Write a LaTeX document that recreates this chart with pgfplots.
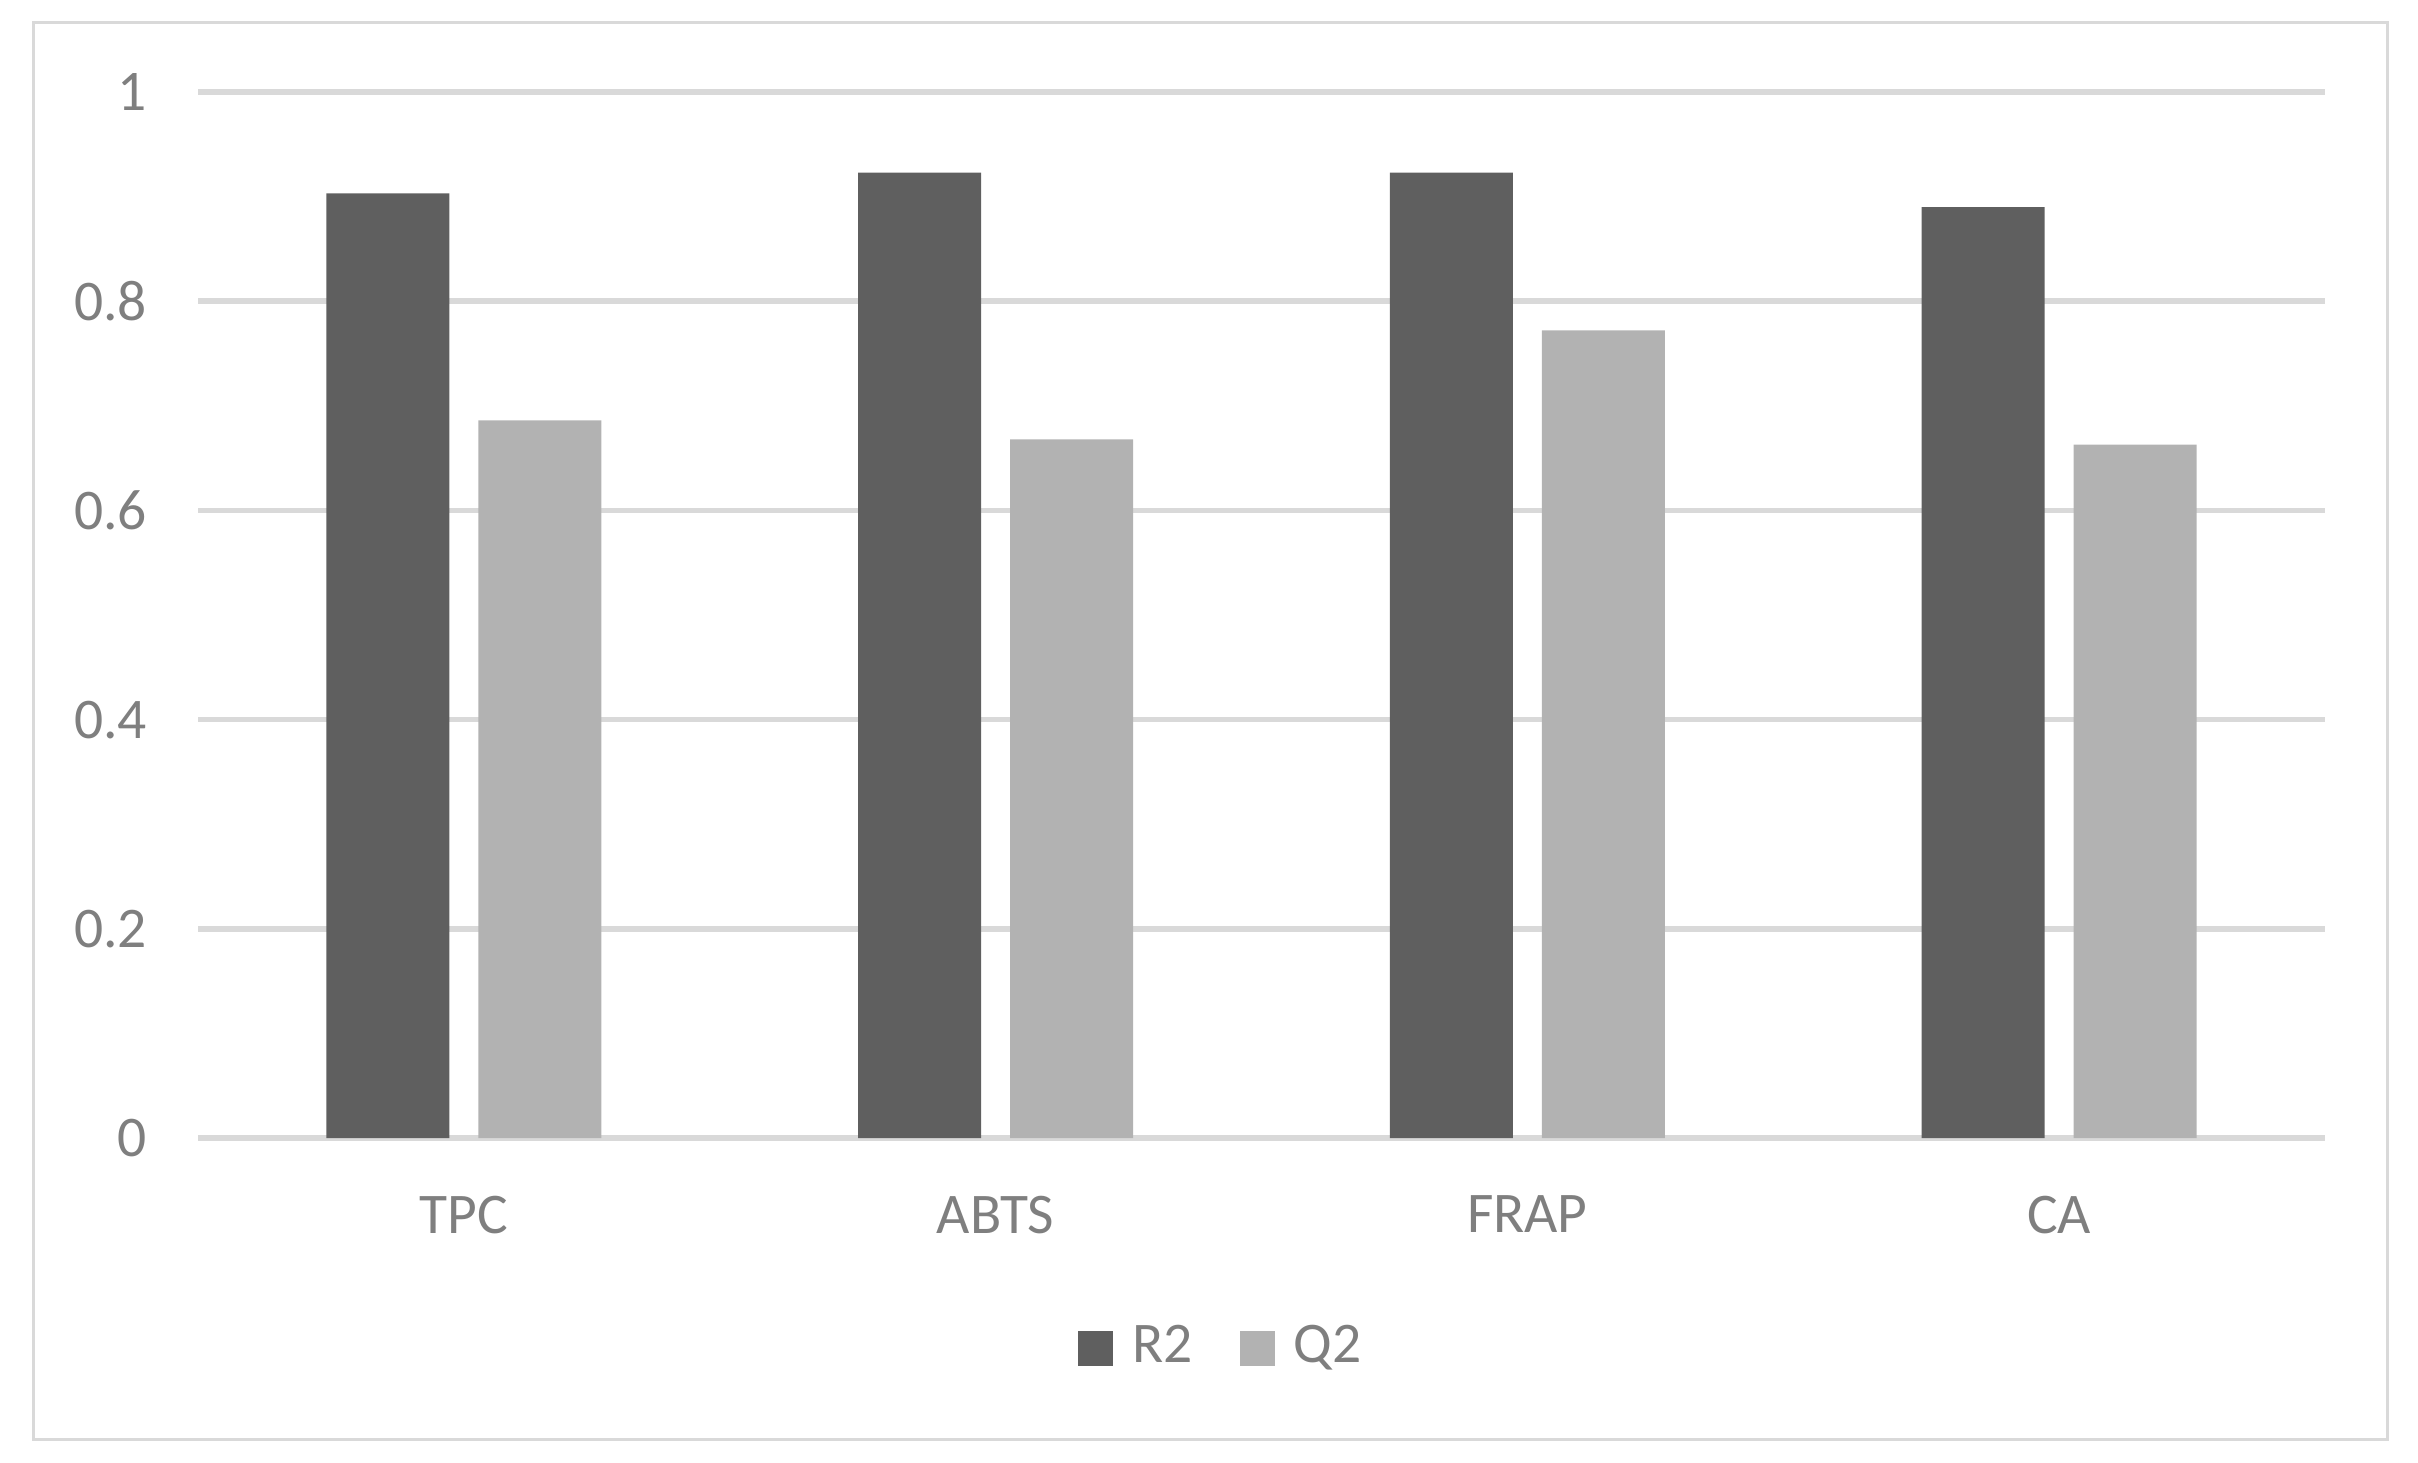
\documentclass[border=0pt]{standalone}
\usepackage{pgfplots}
\pgfplotsset{compat=1.18}
\usepackage{fontspec}
\setmainfont{Carlito}
\definecolor{rtwo}{HTML}{5F5F5F}
\definecolor{qtwo}{HTML}{B2B2B2}
\definecolor{gridgray}{HTML}{D9D9D9}
\definecolor{txtgray}{HTML}{7F7F7F}
\begin{document}
\begin{tikzpicture}
\path[use as bounding box] (-39.6pt,-64.8pt) rectangle (444pt,227.6pt);
\draw[gridgray, line width=0.6pt] (-32.8pt,-60.2pt) rectangle (437.8pt,223pt);
\begin{axis}[
  at={(0pt,0pt)}, anchor=south west,
  scale only axis,
  width=425.4pt, height=209.2pt,
  xmin=-0.5, xmax=3.5, ymin=0, ymax=1,
  enlarge x limits=false,
  axis line style={draw=none},
  major tick length=0pt,
  xtick={0,1,2,3},
  xticklabels={TPC,ABTS,FRAP,CA},
  ytick={0,0.2,0.4,0.6,0.8,1},
  yticklabels={0,0.2,0.4,0.6,0.8,1},
  ymajorgrids,
  grid style={draw=gridgray, line width=1.1pt},
  tick label style={font=\fontsize{11.5}{13}\selectfont, text=txtgray},
  yticklabel style={anchor=east, inner sep=0pt, xshift=-10pt},
  xticklabel style={anchor=north, inner sep=0pt, yshift=-11.4pt},
  legend style={draw=none, fill=none, at={(0.4805,-0.2008)}, anchor=center,
    font=\fontsize{11.5}{13}\selectfont, text=txtgray,
    legend columns=2, inner sep=0pt,
    nodes={inner sep=0pt},
    /tikz/every odd column/.append style={column sep=3.8pt},
    /tikz/every even column/.append style={column sep=9.4pt}},
  legend image code/.code={\fill[#1] (0pt,-3.5pt) rectangle (7pt,3.5pt);},
  legend cell align=left,
]
\addplot[ybar, bar width=24.6pt, bar shift=-15.2pt, fill=rtwo, draw=none]
  coordinates {(0,0.903) (1,0.923) (2,0.923) (3,0.890)};
\addlegendentry{R2}
\addplot[ybar, bar width=24.6pt, bar shift=15.2pt, fill=qtwo, draw=none]
  coordinates {(0,0.686) (1,0.668) (2,0.772) (3,0.663)};
\addlegendentry{Q2}
\end{axis}
\end{tikzpicture}
\end{document}
